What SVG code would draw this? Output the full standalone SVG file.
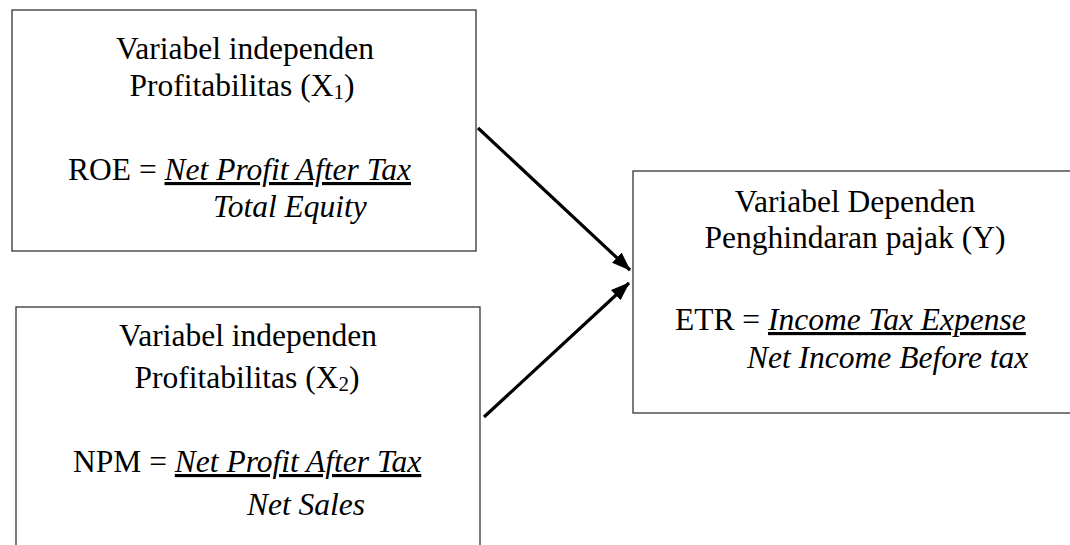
<svg xmlns="http://www.w3.org/2000/svg" width="1070" height="545" viewBox="0 0 1070 545">
<defs>
<style>
.box{fill:#fff;stroke:#333;stroke-width:1.3}
.t{font-family:"Liberation Serif","Times New Roman",serif;font-size:31.5px;fill:#000}
.m{text-anchor:middle}
.i{font-style:italic}
.u{text-decoration:underline;text-decoration-thickness:2px}
.sub{font-size:21px}
.conn{stroke:#000;stroke-width:3.2;fill:none;marker-end:url(#ah)}
</style>
<marker id="ah" markerUnits="userSpaceOnUse" markerWidth="20" markerHeight="20" viewBox="0 0 20 20" refX="18" refY="10" orient="auto">
<path d="M0,3 L19,10 L0,17 Z" fill="#000"/>
</marker>
</defs>
<rect width="1070" height="545" fill="#fff"/>
<g id="node-x1">
<rect class="box" x="12" y="10" width="464" height="241"/>
<text class="t m" x="245" y="59">Variabel independen</text>
<text class="t m" x="242" y="96">Profitabilitas (X<tspan class="sub" dy="3">1</tspan><tspan dy="-3">)</tspan></text>
<text class="t" x="68" y="180">ROE = <tspan class="i u">Net Profit After Tax</tspan></text>
<text class="t i" x="213" y="217">Total Equity</text>
</g>
<g id="node-x2">
<rect class="box" x="16" y="307" width="464" height="260"/>
<text class="t m" x="248" y="346">Variabel independen</text>
<text class="t m" x="247" y="388">Profitabilitas (X<tspan class="sub" dy="3">2</tspan><tspan dy="-3">)</tspan></text>
<text class="t" x="73" y="472">NPM = <tspan class="i u">Net Profit After Tax</tspan></text>
<text class="t i" x="247" y="515">Net Sales</text>
</g>
<g id="node-y">
<rect class="box" x="633" y="171" width="460" height="242"/>
<text class="t m" x="855" y="212">Variabel Dependen</text>
<text class="t m" x="855" y="248">Penghindaran pajak (Y)</text>
<text class="t" x="675" y="330">ETR = <tspan class="i u">Income Tax Expense</tspan></text>
<text class="t i" x="747" y="368">Net Income Before tax</text>
</g>
<g id="connectors">
<line class="conn" x1="478" y1="128" x2="630" y2="270"/>
<line class="conn" x1="484" y1="417" x2="629" y2="283"/>
</g>
</svg>
